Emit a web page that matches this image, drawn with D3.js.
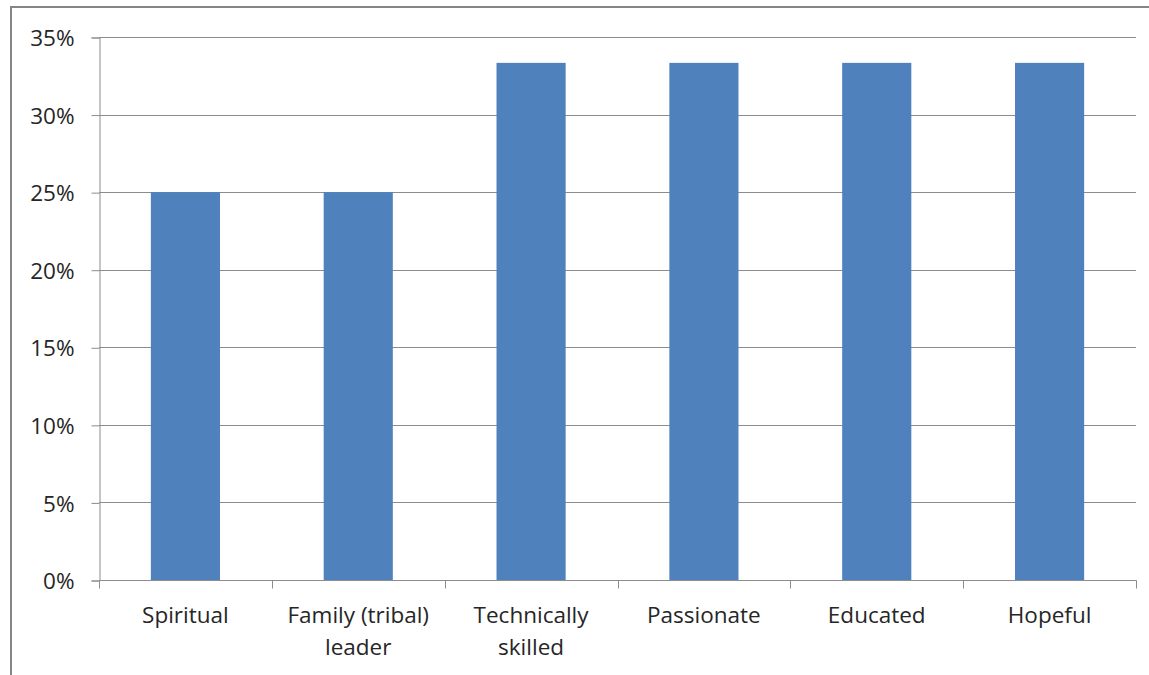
<!DOCTYPE html>
<html>
<head>
<meta charset="utf-8">
<script src="https://cdn.jsdelivr.net/npm/d3@7/dist/d3.min.js"></script>
<style>
  html, body { margin: 0; padding: 0; background: #fff; }
  svg { display: block; }
  text { font-family: "Open Sans", "Noto Sans", sans-serif; fill: #262626; }
</style>
</head>
<body>
<svg id="chart" width="1149" height="675"></svg>
<script>
// Share of respondents choosing each attribute
const categories = [
  ["Spiritual"],
  ["Family (tribal)", "leader"],
  ["Technically", "skilled"],
  ["Passionate"],
  ["Educated"],
  ["Hopeful"]
];
const shares = [0.25, 0.25, 1 / 3, 1 / 3, 1 / 3, 1 / 3];
const yTicks = [0, 0.05, 0.10, 0.15, 0.20, 0.25, 0.30, 0.35];

const W = 1149, H = 675;
const plot = { left: 99, right: 1136, top: 37, bottom: 580 };
const fontSize = "22.5px";

const svg = d3.select("#chart");

// outer chart frame (runs past the right and bottom edges)
svg.append("rect")
  .attr("x", 11).attr("y", 7)
  .attr("width", W).attr("height", H)
  .attr("fill", "none")
  .attr("stroke", "#858585")
  .attr("stroke-width", 2);

const x = d3.scaleBand()
  .domain(d3.range(categories.length))
  .range([plot.left, plot.right])
  .paddingInner(0.6)
  .paddingOuter(0.3);

const y = d3.scaleLinear()
  .domain([0, 0.35])
  .range([plot.bottom, plot.top]);

// horizontal gridlines
svg.append("g")
  .selectAll("line")
  .data(yTicks.filter(d => d > 0))
  .join("line")
  .attr("x1", plot.left).attr("x2", plot.right)
  .attr("y1", d => Math.round(y(d)) + 0.5)
  .attr("y2", d => Math.round(y(d)) + 0.5)
  .attr("stroke", "#8c8c8c")
  .attr("stroke-width", 1);

// bars
svg.append("g")
  .selectAll("rect")
  .data(shares)
  .join("rect")
  .attr("x", (d, i) => x(i))
  .attr("width", x.bandwidth())
  .attr("y", d => y(d))
  .attr("height", d => y(0) - y(d))
  .attr("fill", "#4f81bd");

// y axis
const yAxis = d3.axisLeft(y)
  .tickValues(yTicks)
  .tickFormat(d3.format(".0%"))
  .tickSize(8)
  .tickPadding(17);
const gy = svg.append("g")
  .attr("transform", `translate(${plot.left + 0.5},0.5)`)
  .call(yAxis);
gy.select(".domain").attr("stroke", "#8c8c8c");
gy.selectAll(".tick line").attr("stroke", "#8c8c8c");
gy.selectAll(".tick text")
  .style("font-size", fontSize)
  .attr("fill", "#262626")
  .attr("dy", "0.36em");

// x axis baseline and category separators
const step = x.step();
const bounds = d3.range(categories.length + 1).map(i => plot.left + i * step);
const gx = svg.append("g").attr("transform", "translate(0.5,0.5)");
gx.append("line")
  .attr("x1", plot.left).attr("x2", plot.right)
  .attr("y1", plot.bottom).attr("y2", plot.bottom)
  .attr("stroke", "#8c8c8c");
gx.selectAll(".sep")
  .data(bounds)
  .join("line")
  .attr("class", "sep")
  .attr("x1", d => Math.round(d)).attr("x2", d => Math.round(d))
  .attr("y1", plot.bottom).attr("y2", plot.bottom + 8)
  .attr("stroke", "#8c8c8c");

// category labels
const labels = svg.append("g");
categories.forEach((lines, i) => {
  const t = labels.append("text")
    .attr("x", x(i) + x.bandwidth() / 2)
    .attr("y", 623)
    .attr("text-anchor", "middle")
    .style("font-size", fontSize);
  lines.forEach((ln, j) => {
    t.append("tspan")
      .attr("x", x(i) + x.bandwidth() / 2)
      .attr("dy", j === 0 ? 0 : 32)
      .text(ln);
  });
});
</script>
</body>
</html>
